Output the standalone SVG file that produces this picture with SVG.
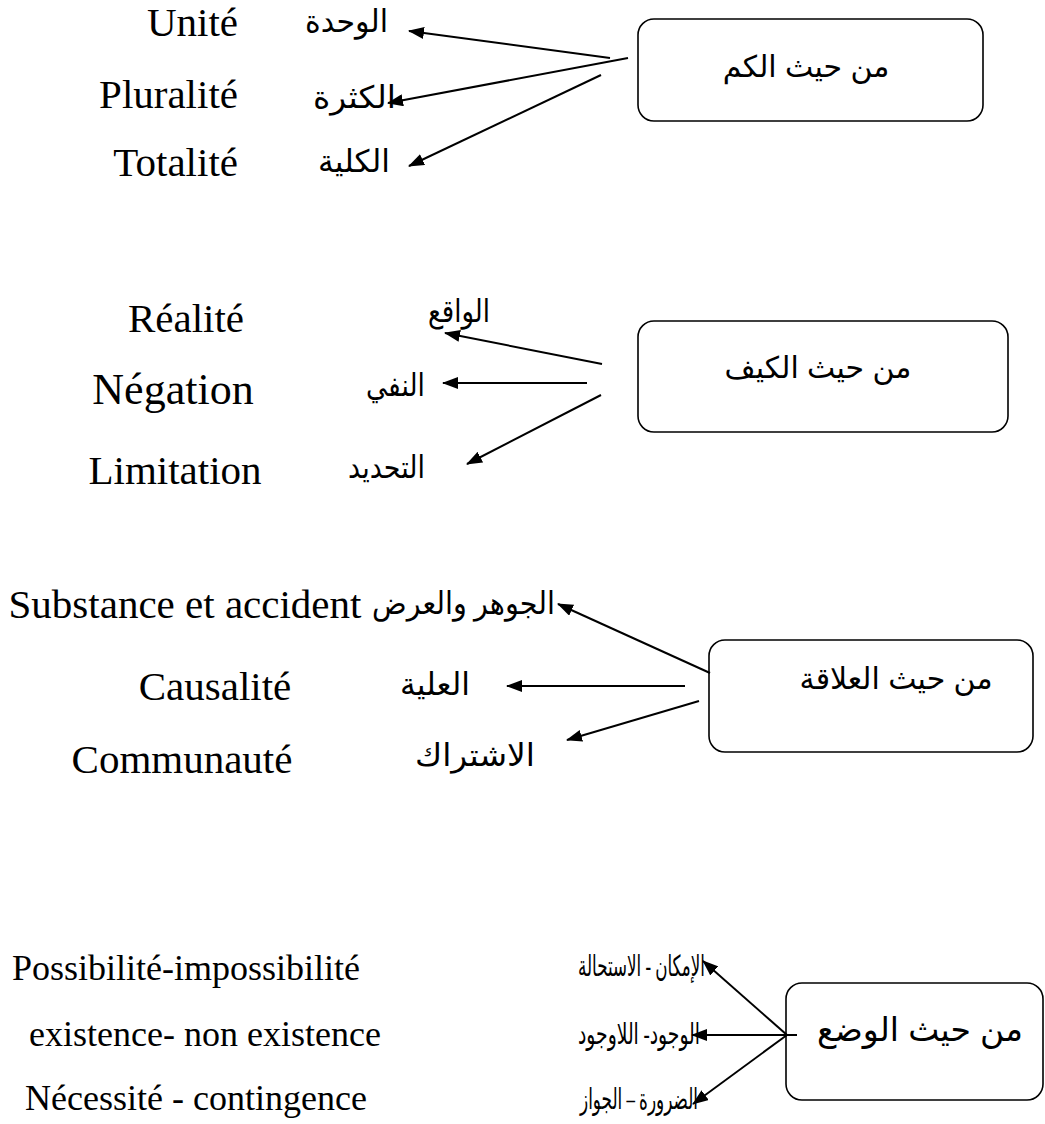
<svg xmlns="http://www.w3.org/2000/svg" width="1045" height="1124" viewBox="0 0 1045 1124">
<style>
.lat{font-family:"Liberation Serif","Times New Roman",serif;font-size:41px;fill:#000}
.lat4{font-family:"Liberation Serif","Times New Roman",serif;font-size:36px;fill:#000}
.ar{font-family:"Liberation Serif","DejaVu Sans",serif;font-size:31px;fill:#000;direction:rtl}
.ar4{font-family:"Liberation Serif","DejaVu Sans",serif;font-size:29px;fill:#000;direction:rtl}
.box{fill:#fff;stroke:#000;stroke-width:1.6}
.bt{font-family:"Liberation Sans","DejaVu Sans",sans-serif;font-size:30px;fill:#000;direction:rtl}
.ln{stroke:#000;stroke-width:2;fill:none;marker-end:url(#ah)}
</style>
<defs>
<marker id="ah" markerUnits="userSpaceOnUse" markerWidth="16" markerHeight="12" viewBox="0 0 16 12" refX="15" refY="6" orient="auto">
<path d="M0,0 L16,6 L0,12 z" fill="#000"/>
</marker>
</defs>
<rect width="1045" height="1124" fill="#fff"/>

<g id="node-kam">
<rect class="box" x="638" y="19" width="345" height="102" rx="16"/>
<text class="bt" x="806" y="77" text-anchor="middle">من حيث الكم</text>
</g>
<g id="node-kayf">
<rect class="box" x="638" y="321" width="370" height="111" rx="16"/>
<text class="bt" x="818" y="378" text-anchor="middle">من حيث الكيف</text>
</g>
<g id="node-alaqa">
<rect class="box" x="709" y="640" width="324" height="112" rx="16"/>
<text class="bt" x="896" y="689" text-anchor="middle">من حيث العلاقة</text>
</g>
<g id="node-wad">
<rect class="box" x="786" y="983" width="257" height="117" rx="16"/>
<text class="bt" x="920" y="1041" text-anchor="middle" style="font-size:33px">من حيث الوضع</text>
</g>

<g id="connectors">
<line class="ln" x1="610" y1="58" x2="409" y2="31"/>
<line class="ln" x1="628" y1="58" x2="388" y2="103"/>
<line class="ln" x1="601" y1="75" x2="409" y2="166"/>
<line class="ln" x1="602" y1="364" x2="445" y2="333"/>
<line class="ln" x1="587" y1="383" x2="443" y2="383"/>
<line class="ln" x1="601" y1="395" x2="467" y2="464"/>
<line class="ln" x1="710" y1="673" x2="558" y2="604"/>
<line class="ln" x1="685" y1="686" x2="507" y2="686"/>
<line class="ln" x1="699" y1="701" x2="567" y2="740"/>
<line class="ln" x1="787" y1="1035" x2="703" y2="961"/>
<line class="ln" x1="797" y1="1035" x2="692" y2="1035"/>
<line class="ln" x1="787" y1="1035" x2="693" y2="1104"/>
</g>

<g id="items-kam">
<text class="lat" x="238" y="36" text-anchor="end">Unité</text>
<text class="ar" x="388" y="32" textLength="83" lengthAdjust="spacingAndGlyphs">الوحدة</text>
<text class="lat" x="238" y="108" text-anchor="end">Pluralité</text>
<text class="ar" x="396" y="108" textLength="83" lengthAdjust="spacingAndGlyphs">الكثرة</text>
<text class="lat" x="238" y="176" text-anchor="end">Totalité</text>
<text class="ar" x="390" y="172" textLength="72" lengthAdjust="spacingAndGlyphs">الكلية</text>
</g>
<g id="items-kayf">
<text class="lat" x="186" y="332" text-anchor="middle">Réalité</text>
<text class="ar" x="490" y="322" textLength="62" lengthAdjust="spacingAndGlyphs">الواقع</text>
<text class="lat" x="173" y="404" text-anchor="middle" style="font-size:44px">Négation</text>
<text class="ar" x="425" y="396" textLength="59" lengthAdjust="spacingAndGlyphs">النفي</text>
<text class="lat" x="175" y="484" text-anchor="middle">Limitation</text>
<text class="ar" x="425" y="478" textLength="77" lengthAdjust="spacingAndGlyphs">التحديد</text>
</g>
<g id="items-alaqa">
<text class="lat" x="185" y="618" text-anchor="middle">Substance et accident</text>
<text class="ar" x="555" y="614" textLength="183" lengthAdjust="spacingAndGlyphs">الجوهر والعرض</text>
<text class="lat" x="215" y="700" text-anchor="middle">Causalité</text>
<text class="ar" x="470" y="695" textLength="70" lengthAdjust="spacingAndGlyphs">العلية</text>
<text class="lat" x="182" y="773" text-anchor="middle">Communauté</text>
<text class="ar" x="535" y="766" textLength="120" lengthAdjust="spacingAndGlyphs">الاشتراك</text>
</g>
<g id="items-wad">
<text class="lat4" x="186" y="980" text-anchor="middle">Possibilité-impossibilité</text>
<text class="ar4" x="705" y="976" textLength="127" lengthAdjust="spacingAndGlyphs">الإمكان - الاستحالة</text>
<text class="lat4" x="205" y="1046" text-anchor="middle">existence- non existence</text>
<text class="ar4" x="700" y="1044" textLength="122" lengthAdjust="spacingAndGlyphs">الوجود- اللاوجود</text>
<text class="lat4" x="196" y="1110" text-anchor="middle">Nécessité - contingence</text>
<text class="ar4" x="698" y="1109" textLength="118" lengthAdjust="spacingAndGlyphs">الضرورة – الجواز</text>
</g>
</svg>
